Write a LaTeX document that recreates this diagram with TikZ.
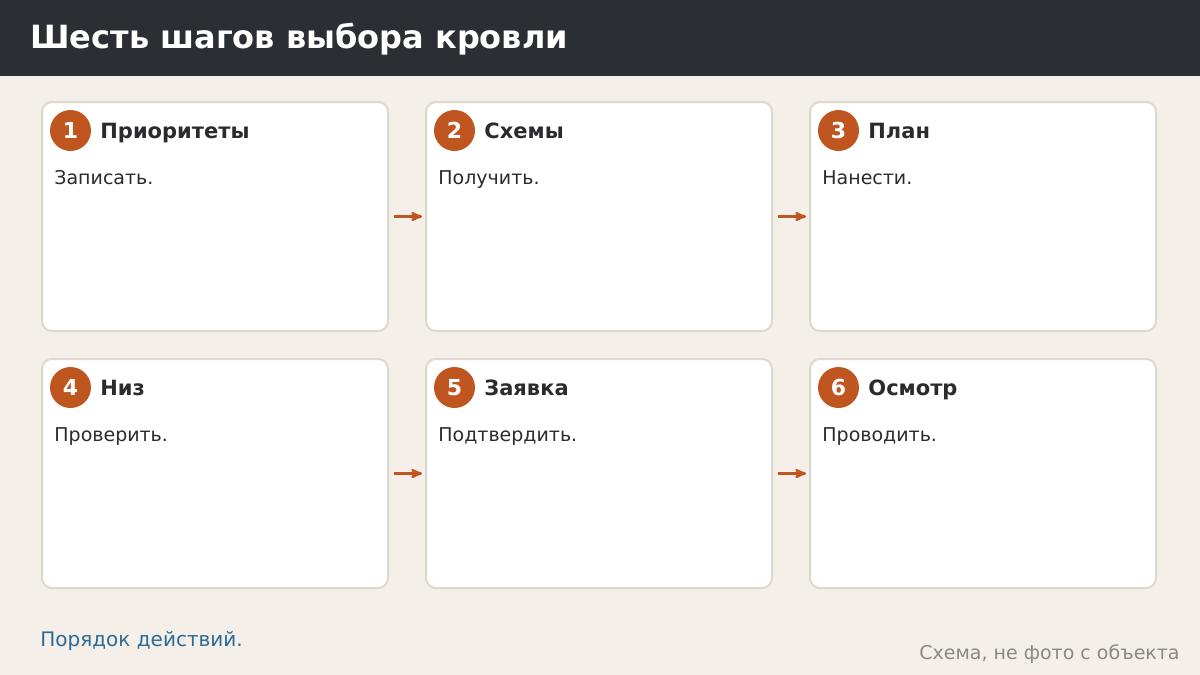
\documentclass[tikz,border=0pt]{standalone}
\usepackage{fontspec}
\setmainfont{DejaVu Sans}
\usepackage{tikz}
\usetikzlibrary{arrows}
\usetikzlibrary{positioning}
\definecolor{headbg}{HTML}{2B2E33}
\definecolor{pagebg}{HTML}{F4F0E9}
\definecolor{cardline}{HTML}{DDD7CD}
\definecolor{accent}{HTML}{C0561F}
\definecolor{ink}{HTML}{2A2B2E}
\definecolor{linkblue}{HTML}{2E6A96}
\definecolor{mutedgray}{HTML}{8A8784}

\begin{document}
\begin{tikzpicture}[x=1pt,y=-1pt,>=stealth',thick,
    card/.style={draw=cardline,line width=2pt,fill=white,rounded corners=10pt,minimum width=346pt,minimum height=229pt,inner sep=0pt},
    num node/.style={circle,fill=accent,text=white,font=\bfseries\fontsize{22}{26}\selectfont,minimum size=41pt,inner sep=0pt},
    head node/.style={anchor=base west,inner sep=0pt,text=ink,font=\bfseries\fontsize{21}{25}\selectfont},
    body node/.style={anchor=base west,inner sep=0pt,text=ink,font=\fontsize{19}{23}\selectfont},
    step arrow/.style={->,draw=accent,line width=2.5pt,shorten <=5pt,shorten >=3pt}]
  \useasboundingbox (0,0) rectangle (1200,675);
  \fill[pagebg] (0,0) rectangle (1200,675);
  \fill[headbg] (0,0) rectangle (1200,76);
  \node[anchor=base west,inner sep=0pt,text=white,font=\bfseries\fontsize{32}{38}\selectfont] (title) at (30,48) {Шесть шагов выбора кровли};
  \begin{scope}
    % first row
    \node[card] (card1) at (215,216.5) {};
    \node[card] (card2) at (599,216.5) {};
    \node[card] (card3) at (983,216.5) {};
    \node[num node] (num1) at (70.5,130.5) {1};
    \node[num node] (num2) at (454.5,130.5) {2};
    \node[num node] (num3) at (838.5,130.5) {3};
    \node[head node] (head1) at (100,138) {Приоритеты};
    \node[head node] (head2) at (484,138) {Схемы};
    \node[head node] (head3) at (868,138) {План};
    \node[body node] (body1) at (54,184) {Записать.};
    \node[body node] (body2) at (438,184) {Получить.};
    \node[body node] (body3) at (822,184) {Нанести.};
    % second row
    \node[card] (card4) at (215,473.5) {};
    \node[card] (card5) at (599,473.5) {};
    \node[card] (card6) at (983,473.5) {};
    \node[num node] (num4) at (70.5,387.5) {4};
    \node[num node] (num5) at (454.5,387.5) {5};
    \node[num node] (num6) at (838.5,387.5) {6};
    \node[head node] (head4) at (100,395) {Низ};
    \node[head node] (head5) at (484,395) {Заявка};
    \node[head node] (head6) at (868,395) {Осмотр};
    \node[body node] (body4) at (54,441) {Проверить.};
    \node[body node] (body5) at (438,441) {Подтвердить.};
    \node[body node] (body6) at (822,441) {Проводить.};
    \path[step arrow] (card1) edge (card2);
    \path[step arrow] (card2) edge (card3);
    \path[step arrow] (card4) edge (card5);
    \path[step arrow] (card5) edge (card6);
  \end{scope}
  \node[anchor=base west,inner sep=0pt,text=linkblue,font=\fontsize{20}{24}\selectfont] (note) at (40,646) {Порядок действий.};
  \node[anchor=base east,inner sep=0pt,text=mutedgray,font=\fontsize{19}{23}\selectfont] (credit) at (1180,659) {Схема, не фото с объекта};
\end{tikzpicture}
\end{document}
